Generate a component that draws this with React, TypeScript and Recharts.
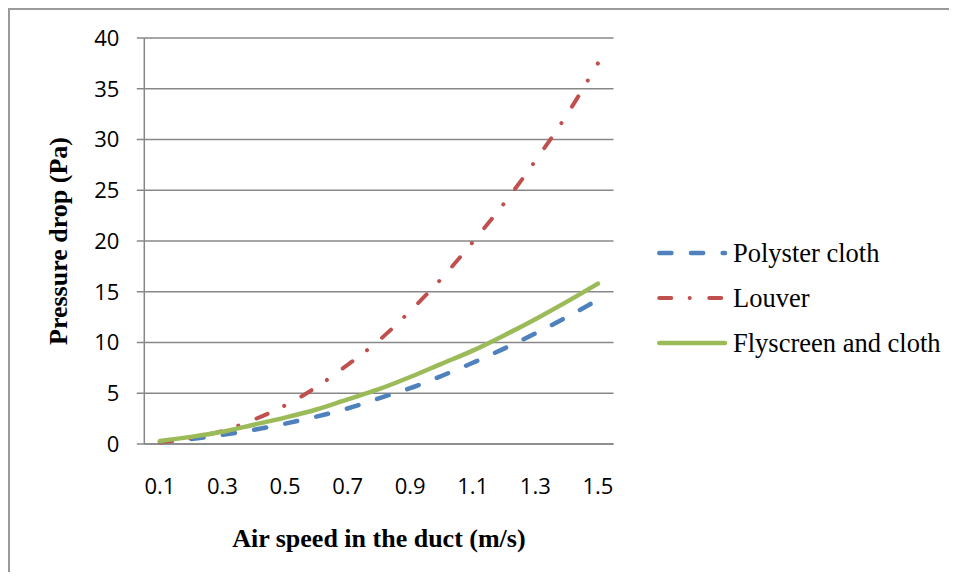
import React from 'react';
import { LineChart, Line, XAxis, YAxis, CartesianGrid, Legend } from 'recharts';

const speeds = ['0.1', '0.2', '0.3', '0.4', '0.5', '0.6', '0.7', '0.8', '0.9', '1.0', '1.1', '1.2', '1.3', '1.4', '1.5'];
const polyester = [0.2, 0.5, 0.9, 1.4, 2.0, 2.7, 3.5, 4.5, 5.5, 6.7, 8.0, 9.4, 10.9, 12.5, 14.2];
const louver = [0.1, 0.6, 1.3, 2.4, 3.8, 5.6, 7.8, 10.2, 13.1, 16.3, 19.9, 23.7, 27.9, 32.4, 37.5];
const flyscreen = [0.3, 0.7, 1.2, 1.9, 2.6, 3.4, 4.4, 5.4, 6.6, 7.9, 9.2, 10.7, 12.3, 14.0, 15.8];
const yTicks = [0, 5, 10, 15, 20, 25, 30, 35, 40];

const seriesNames = ['Polyster cloth', 'Louver', 'Flyscreen and cloth'];

const data = speeds.map((s, i) => ({
  speed: s,
  polyester: polyester[i],
  louver: louver[i],
  flyscreen: flyscreen[i],
}));

const BLUE = '#4F81BD';
const RED = '#C0504D';
const GREEN = '#9BBB59';
const GRID = '#878787';
const FRAME = '#9a9a9a';

const BLUE_DASH = '12.2 19.5';
const RED_DASH = '12 18.4 0.1 19.5';

const legendItems = [
  { name: seriesNames[0], color: BLUE, dash: BLUE_DASH, w: 4.5 },
  { name: seriesNames[1], color: RED, dash: RED_DASH, w: 4 },
  { name: seriesNames[2], color: GREEN, dash: undefined as string | undefined, w: 4.5 },
];

const renderLegend = () => (
  <div style={{ fontFamily: '"Liberation Serif", "Times New Roman", serif', fontSize: 26.5, color: '#000' }}>
    {legendItems.map((it) => (
      <div key={it.name} style={{ display: 'flex', alignItems: 'center', height: 45, whiteSpace: 'nowrap' }}>
        <svg width={76} height={10} style={{ display: 'block', flex: 'none' }}>
          <line
            x1={2.25}
            y1={5}
            x2={68}
            y2={5}
            stroke={it.color}
            strokeWidth={it.w}
            strokeDasharray={it.dash}
            strokeLinecap="round"
          />
        </svg>
        <span style={{ lineHeight: '30px' }}>{it.name}</span>
      </div>
    ))}
  </div>
);

const tickStyle = { fontFamily: '"Open Sans", sans-serif', fontSize: 22, fill: '#000' };
const titleStyle = { fontFamily: '"Liberation Serif", "Times New Roman", serif', fontSize: 26, fontWeight: 700, fill: '#000' };

export default function App() {
  return (
    <div
      style={{
        position: 'relative',
        width: 941,
        height: 564,
        background: '#fff',
      }}
    >
      <div style={{ position: 'absolute', left: 0, top: 0, width: 949, height: 1.5, background: FRAME }} />
      <div style={{ position: 'absolute', left: 0, top: 0, width: 1.5, height: 572, background: FRAME }} />
      <div style={{ position: 'absolute', left: 0, top: 0 }}>
        <LineChart
          width={940}
          height={560}
          data={data}
          margin={{ top: 30, right: 334.5, left: 0, bottom: 94 }}
        >
          <CartesianGrid vertical={false} stroke={GRID} strokeWidth={1.5} />
          <XAxis
            dataKey="speed"
            type="category"
            interval={1}
            padding={{ left: 15.6, right: 15.6 }}
            tickLine={false}
            tickSize={0}
            tickMargin={34}
            axisLine={{ stroke: GRID, strokeWidth: 1.5 }}
            tick={tickStyle}
            height={30}
            label={{
              content: (props: any) => {
                const vb = props.viewBox || { x: 0, width: 0 };
                return (
                  <text x={vb.x + vb.width / 2} y={539} textAnchor="middle" style={titleStyle}>
                    Air speed in the duct (m/s)
                  </text>
                );
              },
            }}
          />
          <YAxis
            type="number"
            domain={[0, 40]}
            ticks={yTicks}
            width={136.3}
            tickSize={7.5}
            tickMargin={17.5}
            tickLine={{ stroke: GRID, strokeWidth: 1.5 }}
            axisLine={{ stroke: GRID, strokeWidth: 1.5 }}
            tick={tickStyle}
            label={{
              content: (props: any) => {
                const vb = props.viewBox || { y: 0, height: 0 };
                const cy = vb.y + vb.height / 2;
                return (
                  <text
                    x={50.5}
                    y={cy}
                    textAnchor="middle"
                    dominantBaseline="central"
                    transform={`rotate(-90, 50.5, ${cy})`}
                    style={titleStyle}
                  >
                    Pressure drop (Pa)
                  </text>
                );
              },
            }}
          />
          <Legend
            layout="vertical"
            align="center"
            verticalAlign="middle"
            content={renderLegend}
            wrapperStyle={{ left: 649, top: 222.5, width: 290 }}
          />
          <Line
            type="monotone"
            dataKey="polyester"
            name={seriesNames[0]}
            stroke={BLUE}
            strokeWidth={4.5}
            strokeDasharray={BLUE_DASH}
            strokeLinecap="round"
            dot={false}
            activeDot={false}
            isAnimationActive={false}
          />
          <Line
            type="monotone"
            dataKey="louver"
            name={seriesNames[1]}
            stroke={RED}
            strokeWidth={4}
            strokeDasharray={RED_DASH}
            strokeLinecap="round"
            dot={false}
            activeDot={false}
            isAnimationActive={false}
          />
          <Line
            type="monotone"
            dataKey="flyscreen"
            name={seriesNames[2]}
            stroke={GREEN}
            strokeWidth={4.5}
            strokeLinecap="round"
            dot={false}
            activeDot={false}
            isAnimationActive={false}
          />
        </LineChart>
      </div>
    </div>
  );
}
